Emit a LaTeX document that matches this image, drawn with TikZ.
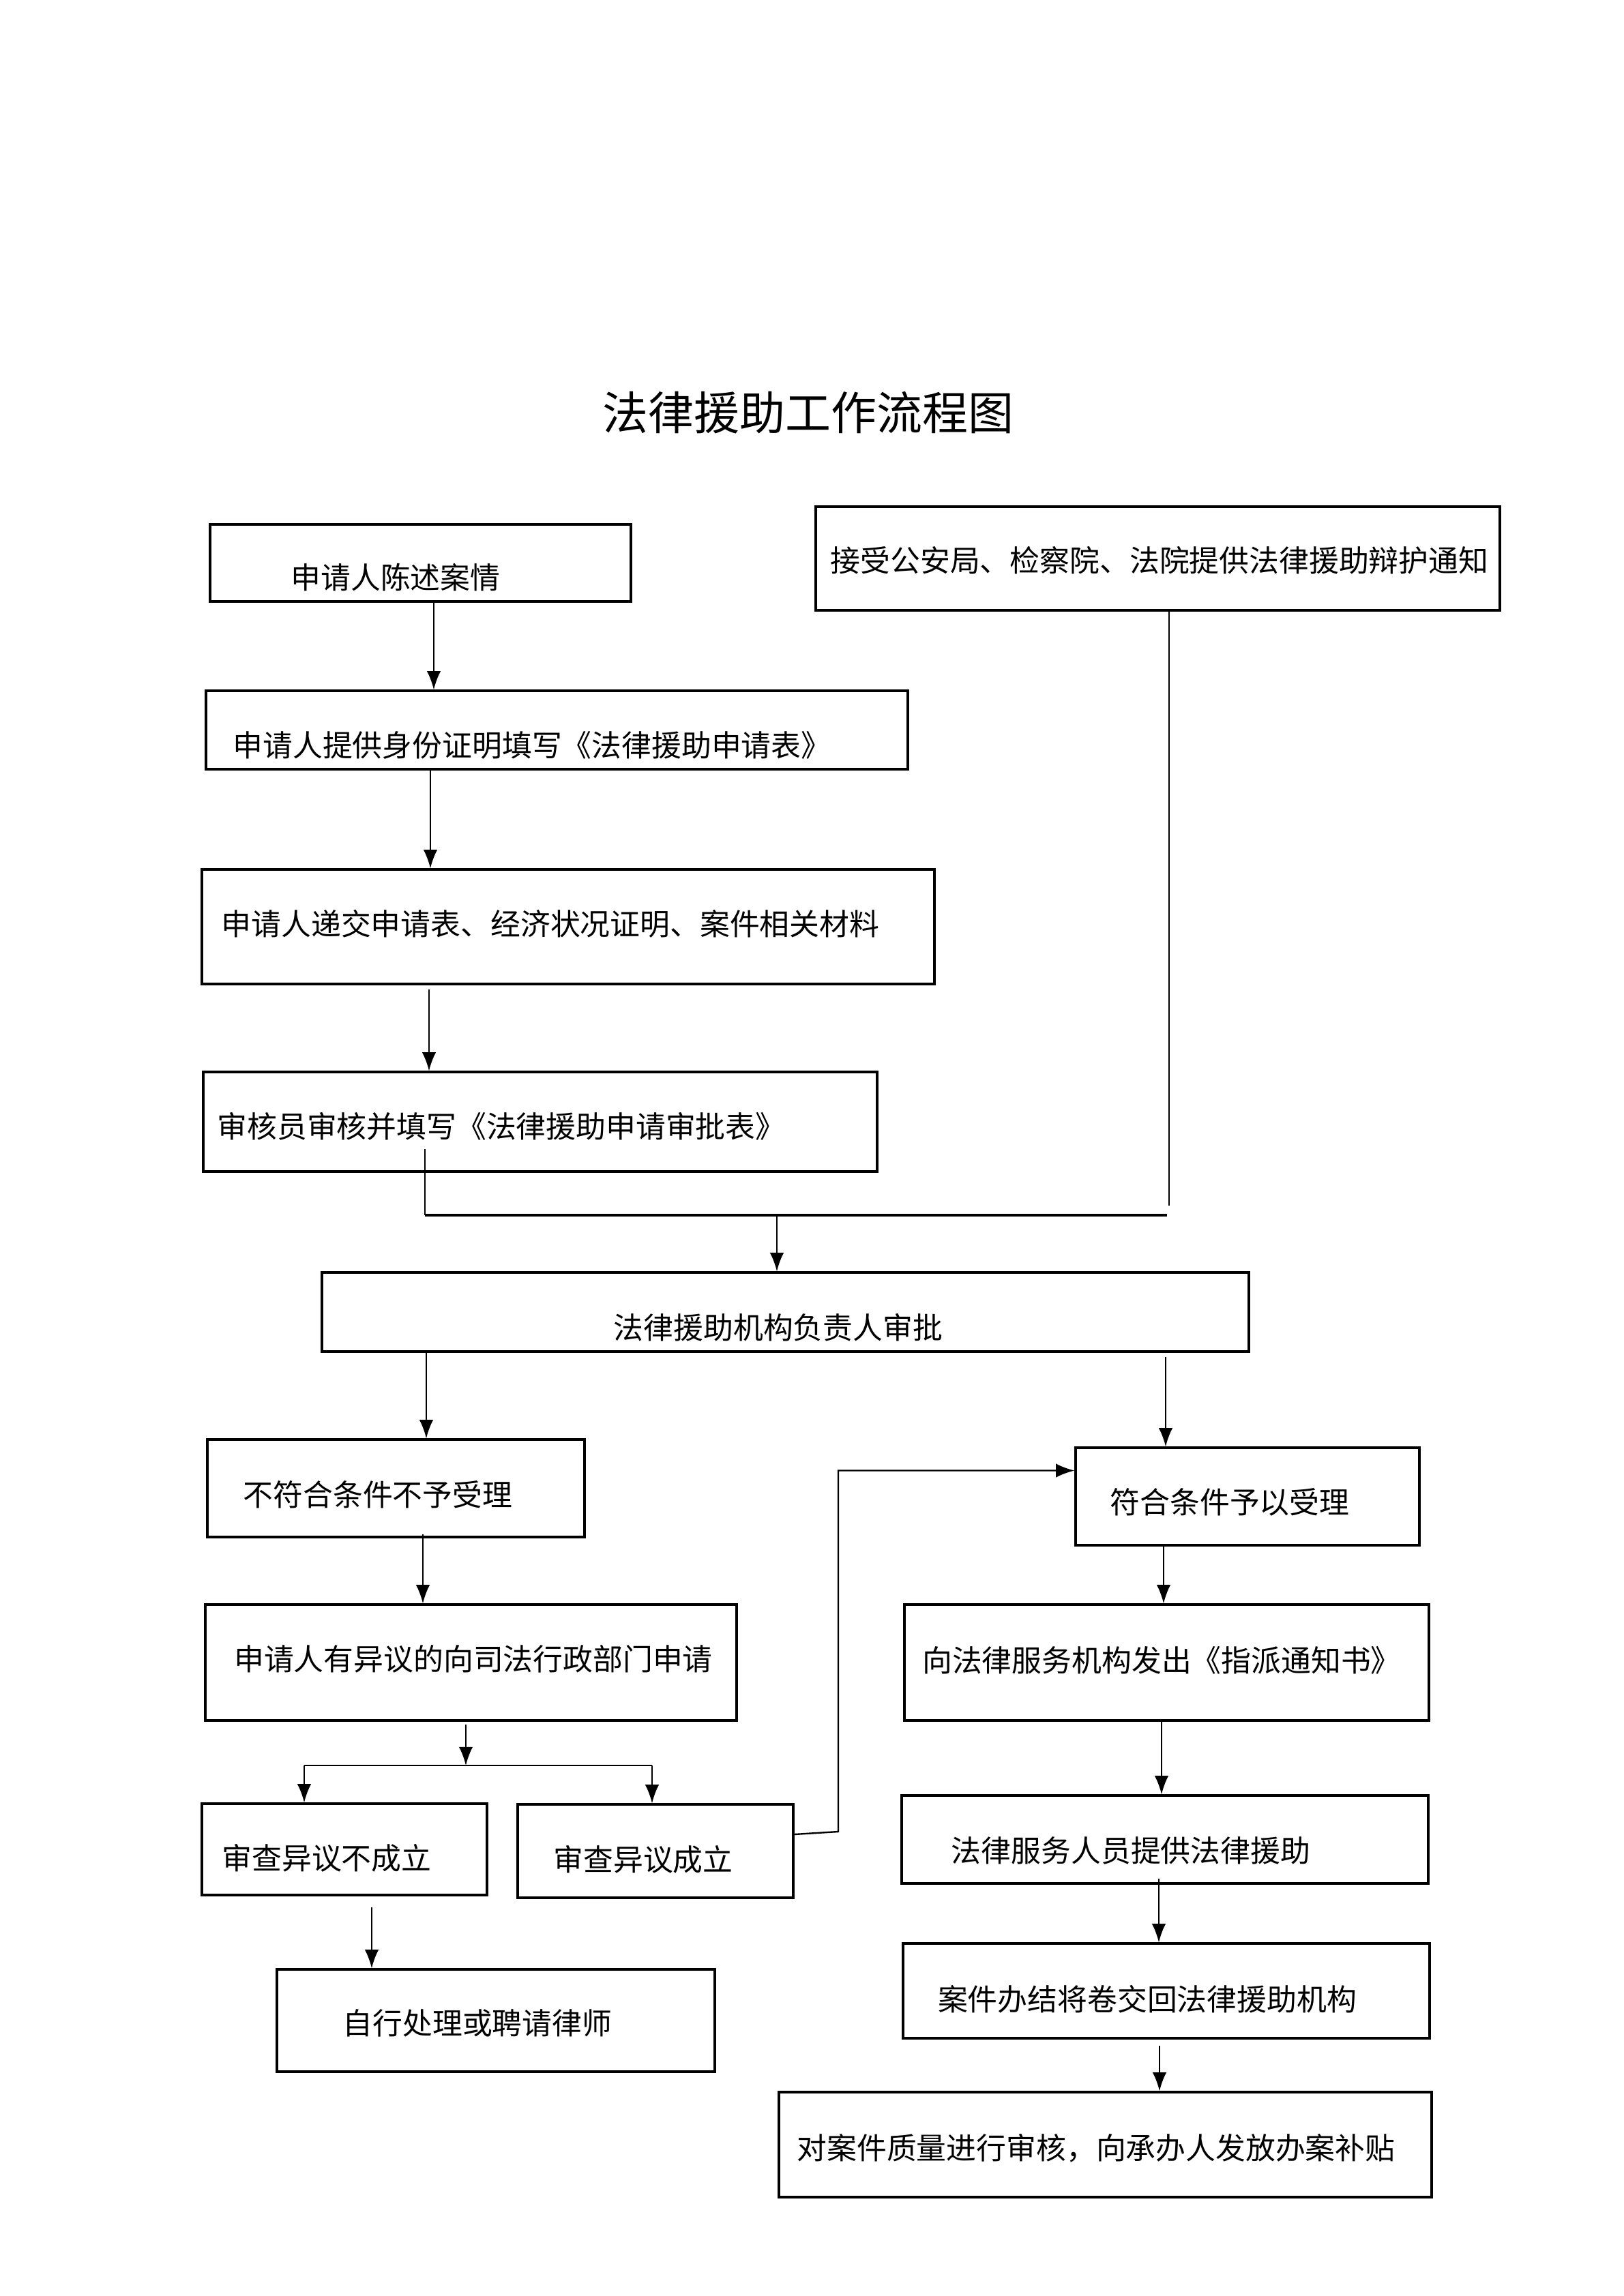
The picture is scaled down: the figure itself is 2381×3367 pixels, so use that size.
\documentclass[tikz,border=0pt]{standalone}
\usepackage{fontspec}
\setmainfont{Noto Sans CJK SC}
\usetikzlibrary{arrows.meta,fit,calc}

\begin{document}
\begin{tikzpicture}[
            x=0.0882mm, y=-0.0882mm,
            box/.style={draw, line width=0.8pt, inner sep=0pt},
            txt/.style={inner sep=0pt, anchor=center, font=\fontsize{11}{13}\selectfont},
            heading/.style={inner sep=0pt, anchor=center, font=\fontsize{16.8}{20}\selectfont},
            arrow/.style={-{Latex[length=2.4mm,width=1.8mm]}, line width=0.6pt},
            link/.style={line width=0.6pt},
            merge/.style={line width=0.9pt}
        ]
            \useasboundingbox (0,0) rectangle (2381,3367);

            \node[heading] (title) at (1185,605) {法律援助工作流程图};

            \node[box, fit={(308,769) (925,882)}] (state) {};
            \node[txt] (stateT) at (580,847) {申请人陈述案情};
            \node[box, fit={(1196,743) (2199,895)}] (notice) {};
            \node[txt] (noticeT) at (1700,822) {接受公安局、检察院、法院提供法律援助辩护通知};
            \node[box, fit={(302,1013) (1331,1128)}] (idproof) {};
            \node[txt] (idproofT) at (780,1093) {申请人提供身份证明填写《法律援助申请表》};
            \node[box, fit={(296,1275) (1370,1443)}] (submit) {};
            \node[txt] (submitT) at (807,1355) {申请人递交申请表、经济状况证明、案件相关材料};
            \node[box, fit={(298,1572) (1286,1718)}] (review) {};
            \node[txt] (reviewT) at (735,1652) {审核员审核并填写《法律援助申请审批表》};
            \node[box, fit={(472,1866) (1831,1982)}] (approve) {};
            \node[txt] (approveT) at (1141,1947) {法律援助机构负责人审批};

            \node[box, fit={(304,2111) (857,2254)}] (reject) {};
            \node[txt] (rejectT) at (554,2192) {不符合条件不予受理};
            \node[box, fit={(301,2353) (1080,2523)}] (objection) {};
            \node[txt] (objectionT) at (694,2433) {申请人有异议的向司法行政部门申请};
            \node[box, fit={(296,2645) (714,2779)}] (objno) {};
            \node[txt] (objnoT) at (479,2725) {审查异议不成立};
            \node[box, fit={(759,2646) (1163,2783)}] (objyes) {};
            \node[txt] (objyesT) at (943,2727) {审查异议成立};
            \node[box, fit={(406,2888) (1048,3038)}] (self) {};
            \node[txt] (selfT) at (700,2967) {自行处理或聘请律师};

            \node[box, fit={(1577,2123) (2081,2266)}] (accept) {};
            \node[txt] (acceptT) at (1803,2203) {符合条件予以受理};
            \node[box, fit={(1326,2353) (2095,2523)}] (assign) {};
            \node[txt] (assignT) at (1703,2435) {向法律服务机构发出《指派通知书》};
            \node[box, fit={(1322,2633) (2094,2762)}] (aid) {};
            \node[txt] (aidT) at (1658,2714) {法律服务人员提供法律援助};
            \node[box, fit={(1324,2850) (2096,2989)}] (close) {};
            \node[txt] (closeT) at (1682,2932) {案件办结将卷交回法律援助机构};
            \node[box, fit={(1142,3068) (2099,3222)}] (subsidy) {};
            \node[txt] (subsidyT) at (1607,3150) {对案件质量进行审核，向承办人发放办案补贴};

            \coordinate (joinL) at (623,1782);
            \coordinate (joinR) at (1711,1782);
            \coordinate (joinM) at (1139,1782);
            \coordinate (noticeEnd) at (1714,1768);
            \coordinate (split) at (683,2589);
            \coordinate (splitL) at (446,2589);
            \coordinate (splitR) at (956,2589);
            \coordinate (bend) at (1229,2686);

            \draw[arrow] (state.south -| 636,0) -- (idproof.north -| 636,0);
            \draw[arrow] (idproof.south -| 631,0) -- (submit.north -| 631,0);
            \draw[arrow] ($(submit.south -| 629,0)+(0,6)$) -- (review.north -| 629,0);
            \draw[link] ($(review.south -| joinL)+(0,-35)$) -- (joinL);
            \draw[link] (notice.south -| noticeEnd) -- (noticeEnd);
            \draw[merge] (joinL) -- (joinR);
            \draw[arrow] (joinM) -- (approve.north -| joinM);

            \draw[arrow] (approve.south -| 625,0) -- (reject.north -| 625,0);
            \draw[arrow] ($(approve.south -| 1709,0)+(0,6)$) -- (accept.north -| 1709,0);
            \draw[arrow] ($(reject.south -| 620,0)+(0,-6)$) -- (objection.north -| 620,0);
            \draw[arrow] ($(objection.south -| split)+(0,4)$) -- (split);
            \draw[link] (splitL) -- (splitR);
            \draw[arrow] (splitL) -- (objno.north -| splitL);
            \draw[arrow] (splitR) -- (objyes.north -| splitR);
            \draw[arrow] ($(objno.south -| 545,0)+(0,16)$) -- (self.north -| 545,0);
            \draw[arrow] (objyes.east |- 0,2690) -- (bend) |- ($(accept.west)+(0,-38)$);

            \draw[arrow] (accept.south -| 1706,0) -- (assign.north -| 1706,0);
            \draw[arrow] (assign.south -| 1703,0) -- (aid.north -| 1703,0);
            \draw[arrow] ($(aid.south -| 1699,0)+(0,-9)$) -- (close.north -| 1699,0);
            \draw[arrow] ($(close.south -| 1700,0)+(0,9)$) -- (subsidy.north -| 1700,0);
        \end{tikzpicture}
\end{document}
